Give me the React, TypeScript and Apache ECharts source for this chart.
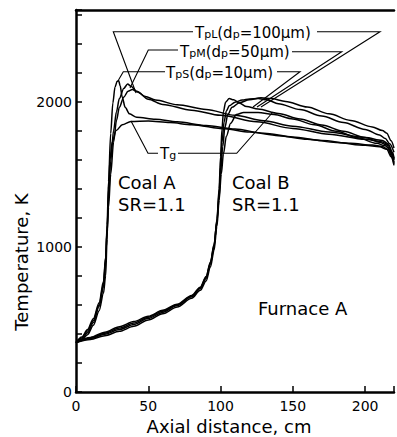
import React, { useEffect, useRef } from "react";
import * as echarts from "echarts";

const xTicks = [0, 50, 100, 150, 200];
const yTickLabels = [0, 1000, 2000];

const coalA_Tg = [[0,340],[4,358],[8,395],[12,460],[16,560],[19,680],[20.5,800],[21.5,1050],[22.5,1400],[23.5,1600],[25,1720],[27.8,1800],[32,1840],[38,1862],[50,1866],[65,1855],[80,1840],[103,1812],[120,1790],[140,1765],[160,1740],[180,1718],[200,1698],[210,1688],[215,1672],[218,1620],[220,1560]];
const coalA_TpS = [[0,340],[4,365],[8,408],[12,478],[16,590],[19,720],[20.5,900],[21.5,1150],[22.5,1450],[24,1780],[25.5,1990],[27,2100],[28.5,2140],[29.5,2145],[30.5,2110],[32,2030],[34,1960],[37,1915],[42,1892],[55,1878],[70,1860],[90,1835],[110,1810],[130,1782],[150,1756],[170,1732],[190,1712],[205,1700],[212,1690],[216,1668],[219,1610],[220,1570]];
const coalA_TpM = [[0,340],[4,372],[8,420],[12,492],[16,600],[19,740],[20.5,920],[21.5,1120],[22.5,1330],[24,1590],[26,1800],[28,1930],[30,2020],[33,2090],[35.7,2120],[38,2105],[42,2070],[50,2015],[60,1980],[80,1940],[100,1905],[125,1860],[150,1815],[175,1775],[200,1740],[212,1722],[216,1700],[219,1640],[220,1600]];
const coalA_TpL = [[0,340],[4,378],[8,430],[12,505],[16,615],[19,760],[20.5,930],[21.5,1100],[22.5,1270],[24,1500],[26,1720],[28,1870],[30,1960],[33,2030],[36,2070],[39,2082],[42,2068],[48,2035],[55,2010],[70,1978],[90,1945],[110,1905],[130,1868],[150,1830],[175,1790],[200,1752],[212,1732],[216,1708],[219,1650],[220,1610]];

const coalB_Tg = [[0,340],[10,362],[20,388],[30,418],[40,452],[50,495],[60,538],[70,585],[80,645],[86,700],[90,765],[93,860],[95.5,975],[97.5,1140],[99,1320],[100.5,1500],[102,1640],[104,1760],[107,1850],[111,1910],[116,1925],[126,1925],[137,1910],[150,1880],[165,1840],[180,1795],[195,1750],[208,1712],[214,1695],[217,1670],[219,1620],[220,1580]];
const coalB_TpS = [[0,340],[10,368],[20,398],[30,430],[40,465],[50,507],[60,548],[70,595],[80,655],[86,712],[90,782],[93,880],[95.5,1000],[97.5,1190],[99,1400],[100,1620],[101,1810],[102,1930],[103.5,1995],[106,2020],[109,2012],[113,1990],[118,1965],[126,1948],[140,1918],[155,1880],[170,1838],[185,1795],[200,1752],[210,1720],[215,1700],[218,1650],[220,1600]];
const coalB_TpM = [[0,340],[10,372],[20,405],[30,440],[40,475],[50,515],[60,556],[70,600],[80,660],[86,718],[90,790],[93,890],[95.5,1010],[97.5,1180],[99,1370],[100,1550],[101,1720],[102.5,1860],[104,1935],[106,1970],[110,1995],[115,2010],[120,2018],[126,2020],[132,2012],[140,1985],[155,1945],[170,1900],[185,1855],[200,1808],[210,1770],[214,1745],[217,1710],[220,1650]];
const coalB_TpL = [[0,340],[10,376],[20,412],[30,450],[40,485],[50,522],[60,562],[70,605],[80,665],[86,722],[90,795],[93,895],[95.5,1015],[97.5,1170],[99,1340],[100,1500],[101.5,1690],[103,1820],[105,1910],[108,1960],[113,1992],[120,2012],[128,2025],[135,2020],[145,2000],[160,1962],[175,1915],[190,1870],[205,1825],[212,1800],[215,1782],[218,1730],[220,1680]];

const seriesList = [
  { name: "Coal A Tg", data: coalA_Tg },
  { name: "Coal A TpS", data: coalA_TpS },
  { name: "Coal A TpM", data: coalA_TpM },
  { name: "Coal A TpL", data: coalA_TpL },
  { name: "Coal B Tg", data: coalB_Tg },
  { name: "Coal B TpS", data: coalB_TpS },
  { name: "Coal B TpM", data: coalB_TpM },
  { name: "Coal B TpL", data: coalB_TpL },
];

const FONT = "DejaVu Sans";

const rich = {
  m: { fontSize: 15, fontFamily: FONT, fill: "#000", lineHeight: 18, verticalAlign: "bottom" },
  s: { fontSize: 11, fontFamily: FONT, fill: "#000", lineHeight: 9, verticalAlign: "bottom" },
};

function lbl(x: number, y: number, text: string) {
  return {
    type: "text",
    silent: true,
    style: { x, y, text, rich, fill: "#000", align: "left", verticalAlign: "middle", font: `15px ${FONT}` },
  };
}
function plain(x: number, y: number, text: string, size: number, align = "left", rotation = 0) {
  return {
    type: "text",
    silent: true,
    x,
    y,
    rotation,
    style: { x: 0, y: 0, text, fill: "#000", align, verticalAlign: "middle", font: `${size}px ${FONT}` },
  };
}
function leader(points: number[][]) {
  return {
    type: "polyline",
    silent: true,
    shape: { points },
    style: { stroke: "#000", lineWidth: 1.1, fill: null },
  };
}

export default function App() {
  const ref = useRef<HTMLDivElement>(null);
  useEffect(() => {
    if (!ref.current) return;
    const chart = echarts.init(ref.current, null, { renderer: "svg" });
    chart.setOption({
      animation: false,
      backgroundColor: "#fff",
      grid: { left: 76, top: 10, width: 322.5, height: 382 },
      xAxis: [
        {
          type: "value",
          min: 0,
          max: 220,
          interval: 50,
          position: "bottom",
          axisLine: { lineStyle: { color: "#000", width: 2.5 } },
          axisTick: { inside: true, length: 6, lineStyle: { color: "#000", width: 1.5 } },
          axisLabel: {
            color: "#000",
            fontSize: 14,
            fontFamily: FONT,
            margin: 7,
            formatter: (v: number) => (xTicks.includes(v) ? String(v) : ""),
          },
          splitLine: { show: false },
        },
        {
          type: "value",
          min: 0,
          max: 220,
          position: "top",
          axisLine: { show: true, lineStyle: { color: "#000", width: 2.5 } },
          axisTick: { show: false },
          axisLabel: { show: false },
          splitLine: { show: false },
        },
      ],
      yAxis: {
        type: "value",
        min: 0,
        max: 2630,
        interval: 200,
        axisLine: { show: true, lineStyle: { color: "#000", width: 2.5 } },
        axisTick: { show: true, inside: true, length: 6, lineStyle: { color: "#000", width: 1.5 } },
        axisLabel: {
          color: "#000",
          fontSize: 14,
          fontFamily: FONT,
          margin: 4,
          formatter: (v: number) => (yTickLabels.includes(v) ? String(v) : ""),
        },
        splitLine: { show: false },
      },
      series: seriesList.map((s) => ({
        type: "line",
        name: s.name,
        data: s.data,
        xAxisIndex: 0,
        showSymbol: false,
        symbol: "none",
        smooth: 0.3,
        smoothMonotone: "x",
        lineStyle: { color: "#000", width: 1.5 },
      })),
      graphic: [
        leader([[136, 93], [113.3, 31.7], [193, 31.7]]),
        leader([[317, 31.7], [380, 31.7], [261, 107]]),
        leader([[130, 88], [148.3, 50], [178, 50]]),
        leader([[292, 51.7], [341.7, 51.7], [257, 107]]),
        leader([[118.5, 80], [123.3, 71.7], [165, 71.7]]),
        leader([[277, 71.7], [300, 71.7], [253, 107]]),
        leader([[131, 121], [148, 153.3], [158, 153.3]]),
        leader([[178, 153.3], [236.7, 153.3], [273, 112]]),
        lbl(195, 31, "{m|T}{s|pL}{m|(d}{s|p}{m|=100μm)}"),
        lbl(180, 50, "{m|T}{s|pM}{m|(d}{s|p}{m|=50μm)}"),
        lbl(166, 71, "{m|T}{s|pS}{m|(d}{s|p}{m|=10μm)}"),
        lbl(160, 152, "{m|T}{s|g}"),
        plain(118, 182, "Coal A", 18),
        plain(118, 204, "SR=1.1", 18),
        plain(232, 182, "Coal B", 18),
        plain(232, 204, "SR=1.1", 18),
        plain(258, 308, "Furnace A", 18),
        plain(229, 426, "Axial distance, cm", 18, "center"),
        plain(21, 262, "Temperature, K", 18, "center", Math.PI / 2),
      ],
    });
    return () => chart.dispose();
  }, []);
  return (
    <div
      ref={ref}
      style={{ position: "fixed", left: 0, top: 0, width: 397, height: 437, background: "#fff" }}
    />
  );
}
